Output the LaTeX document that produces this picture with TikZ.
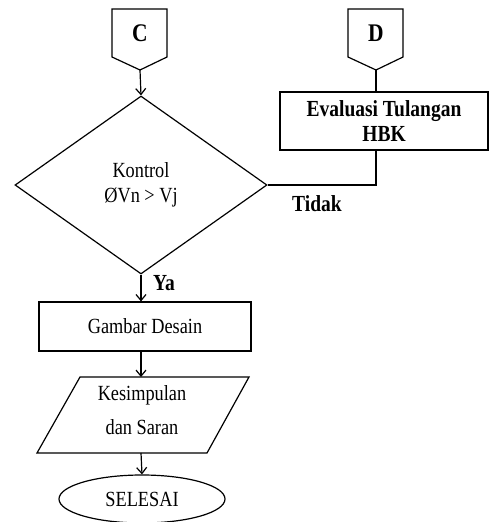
\documentclass[tikz,border=0pt]{standalone}
\usepackage{fontspec}
\setmainfont{Liberation Serif}
\usetikzlibrary{arrows.meta,shapes.geometric}
\newcommand{\st}[1]{\scalebox{1}[1.18]{#1}}
\begin{document}
\begin{tikzpicture}[x=1pt,y=-1pt,line width=1.2pt,
  every node/.style={font=\fontsize{18.3}{25}\selectfont,inner sep=0pt},
  arr/.style={-{Straight Barb[length=6pt,width=10pt,line width=1.2pt]}},
  box/.style={draw,rectangle},
  bold/.style={font=\fontsize{19.5}{25}\selectfont\bfseries},
  big/.style={font=\fontsize{21.5}{22}\selectfont\bfseries}]
\useasboundingbox (0,0) rectangle (490,522);
% off-page connectors
\draw (112,9) -- (167,9) -- (167,57) -- (140,70) coordinate (Ctip) -- (112,57) -- cycle;
\node[big] (C) at (140,33) {\st{C}};
\draw (348,9) -- (403,9) -- (403,57) -- (376,70) coordinate (Dtip) -- (348,57) -- cycle;
\node[big] (D) at (376,33) {\st{D}};
% decision
\node[draw,diamond,aspect=1.4,minimum width=252pt,minimum height=178pt,align=center] (dia) at (141,185)
  {\st{Kontrol}\\\st{ØVn > Vj}};
\draw[arr] (Ctip) -- (dia.north);
% evaluation box
\node[box,bold,minimum width=208pt,minimum height=58pt,align=center] (ev) at (384,121)
  {\st{Evaluasi Tulangan}\\\st{HBK}};
\draw (Dtip) -- (Dtip |- ev.north);
\draw (ev.south -| Dtip) |- (dia.east);
\node[bold] (tidak) at (317,204) {\st{Tidak}};
% gambar
\node[box,minimum width=212pt,minimum height=49pt] (gam) at (145,326.5) {\st{Gambar Desain}};
\draw[arr] (dia.south) -- (dia.south |- gam.north);
\node[bold] (ya) at (164,283) {\st{Ya}};
% parallelogram
\draw (80,377) -- (249,377) -- (207,453) -- (37,453) -- cycle;
\coordinate (kstop) at (141,377);
\coordinate (ksbot) at (141,453);
\node[align=center,font=\fontsize{18.3}{34}\selectfont] (ks) at (142,410) {\st{Kesimpulan}\\\st{dan Saran}};
\draw[arr] (dia.south |- gam.south) -- (kstop);
% end
\node[draw,ellipse,minimum width=166pt,minimum height=48pt] (end) at (142,499) {\st{SELESAI}};
\draw[arr] (ksbot) -- (end.north);
\end{tikzpicture}
\end{document}
